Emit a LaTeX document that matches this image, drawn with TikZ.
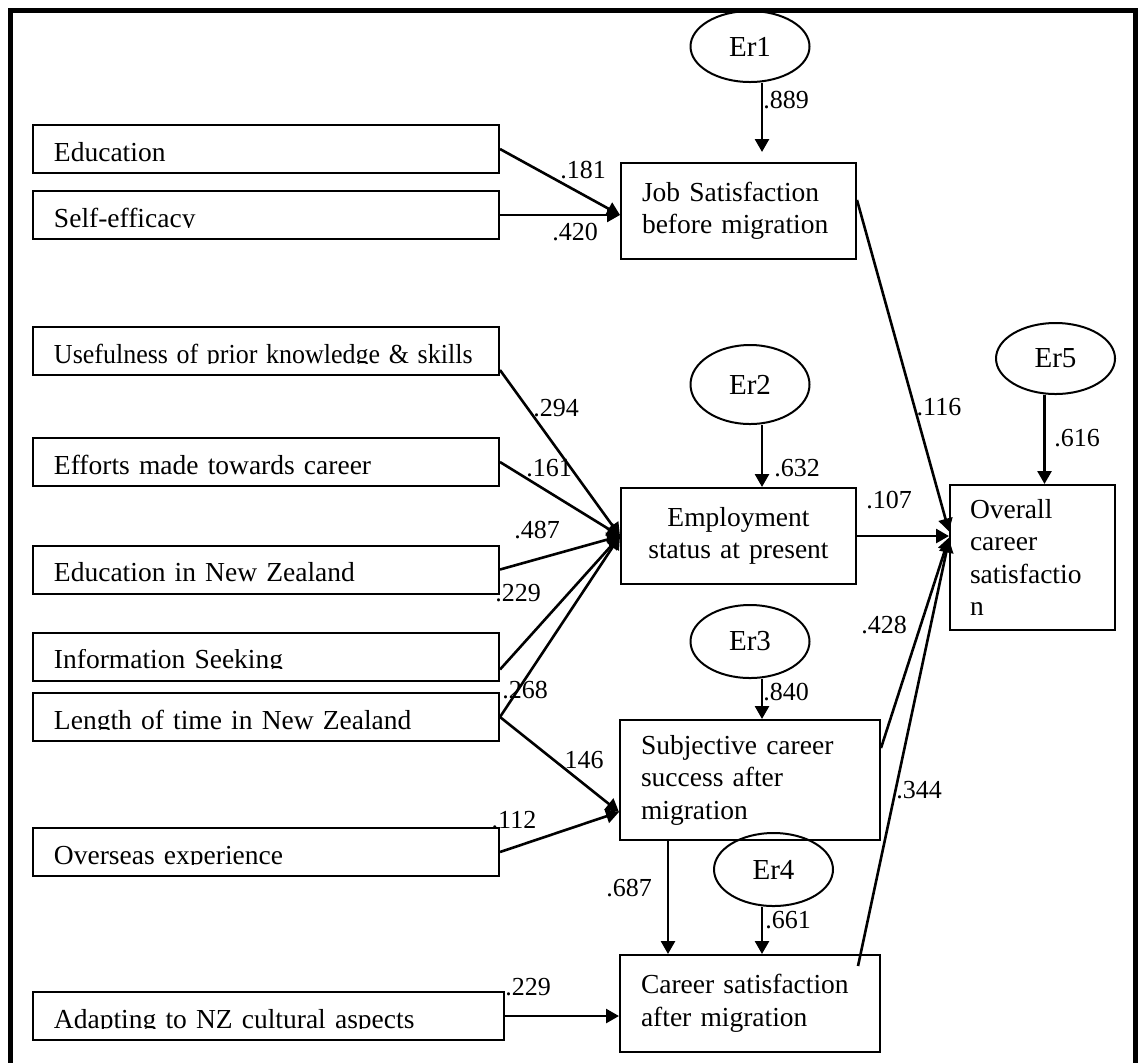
\documentclass[tikz,border=0pt]{standalone}
\usepackage{fontspec}
\setmainfont{Liberation Serif}
\usepackage{trimclip}
\usetikzlibrary{arrows.meta}
\usetikzlibrary{shapes.geometric}
\tikzstyle{VarBox}=[draw,line width=1pt,inner xsep=10.5pt,inner ysep=0pt,text height=12pt,
text depth=0pt,text width=212pt,minimum height=24pt,align=left]
\tikzstyle{MidBox}=[draw,line width=1pt,inner xsep=10.5pt,inner ysep=2pt,align=left]
\tikzstyle{ErrNode}=[ellipse,draw,line width=1pt,minimum width=59.5pt,minimum height=36pt,
inner sep=0pt,font=\fontsize{14.5}{17}\selectfont]
\tikzstyle{PathArrow}=[line width=1.3pt,-{Triangle[length=6.5pt,width=7pt]}]
\tikzstyle{Coef}=[inner sep=0pt,font=\fontsize{13}{15}\selectfont]
% text boxes whose descenders are cut off at the baseline
\newcommand{\NoDesc}[1]{\clipbox{0pt {\depth} 0pt 0pt}{#1}}

\begin{document}
\begin{tikzpicture}[x=0.5pt,y=-0.5pt,font=\fontsize{13.75}{16.25}\selectfont]
        \useasboundingbox (0,0) rectangle (1139,1062);
        \draw[line width=2.5pt] (10,1075) -- (10,10) -- (1135,10) -- (1135,1075);
        % exogenous variables
        \node[VarBox](edu)at(266,149){Education};
        \node[VarBox](self)at(266,215){\NoDesc{Self-efficacy}};
        \node[VarBox](use)at(266,351){\NoDesc{\scalebox{0.945}[1]{Usefulness of prior knowledge \& skills}}};
        \node[VarBox](eff)at(266,462){Efforts made towards career};
        \node[VarBox](ednz)at(266,569.5){Education in New Zealand};
        \node[VarBox](info)at(266,656.5){\NoDesc{Information Seeking}};
        \node[VarBox](len)at(266,717){\NoDesc{Length of time in New Zealand}};
        \node[VarBox](over)at(266,852){\NoDesc{Overseas experience}};
        \node[VarBox,text width=214.5pt](adapt)at(268.5,1016){\NoDesc{Adapting to NZ cultural aspects}};
        % endogenous variables
        \node[MidBox,text width=96.5pt,minimum height=48pt](job)at(738.5,211){Job Satisfaction\\before migration};
        \node[MidBox,text width=96.5pt,minimum height=48pt,align=center](emp)at(738.5,536){Employment\\status at present};
        \node[MidBox,text width=109pt,minimum height=60pt](subj)at(750,780){Subjective career\\success after\\migration};
        \node[MidBox,text width=109pt,minimum height=48.5pt](career)at(750,1003.5){Career satisfaction\\after migration};
        \node[MidBox,inner xsep=10pt,text width=62.5pt,minimum height=72.5pt](ov)at(1032.5,557.5){Overall\\career\\satisfactio\\n};
        % error terms
        \node[ErrNode,minimum height=35.5pt](er1)at(750,46.5){Er1};
        \node[ErrNode,minimum height=39.5pt](er2)at(750,384.5){Er2};
        \node[ErrNode,minimum height=36.5pt](er3)at(750,641.5){Er3};
        \node[ErrNode,minimum height=36.5pt](er4)at(773.5,869.5){Er4};
        \node[ErrNode,minimum height=35.5pt](er5)at(1055.5,358.5){Er5};
        % paths
        \draw[PathArrow](edu.east)--(self.east-|job.west);
        \draw[PathArrow](self.east)--(self.east-|job.west);
        \draw[PathArrow]([yshift=-9.5pt]use.east)--(emp.west);
        \draw[PathArrow](eff.east)--(emp.west);
        \draw[PathArrow](ednz.east)--(emp.west);
        \draw[PathArrow]([yshift=-6.5pt]info.east)--(emp.west);
        \draw[PathArrow](len.east)--(emp.west);
        \draw[PathArrow](len.east)--([yshift=-16pt]subj.west);
        \draw[PathArrow](over.east)--([yshift=-16pt]subj.west);
        \draw[PathArrow](adapt.east)--(adapt.east-|career.west);
        \draw[PathArrow]([yshift=5.5pt]job.east)--([yshift=13pt]ov.west);
        \draw[PathArrow](emp.east)--(emp.east-|ov.west);
        \draw[PathArrow]([yshift=16pt]subj.east)--([yshift=10pt]ov.west);
        \draw[PathArrow]([xshift=-11.5pt,yshift=-6pt]career.north east)--([yshift=9pt]ov.west);
        \draw[PathArrow]([xshift=-41pt]subj.south)--([xshift=-41pt]career.north);
        \draw[PathArrow]([xshift=6pt]er1.south)--([xshift=11.75pt,yshift=5pt]job.north);
        \draw[PathArrow]([xshift=6pt]er2.south)--([xshift=11.75pt]emp.north);
        \draw[PathArrow]([xshift=6pt]er3.south)--([xshift=6pt]subj.north);
        \draw[PathArrow]([xshift=-5.75pt]er4.south)--([xshift=6pt]career.north);
        \draw[PathArrow]([xshift=-5.5pt]er5.south)--([xshift=6pt]ov.north);
        % coefficients
        \node[Coef](c889)at(786,100){.889};
        \node[Coef](c181)at(583,170){.181};
        \node[Coef](c420)at(575,232){.420};
        \node[Coef](c294)at(556,408){.294};
        \node[Coef](c161)at(549,468){.161};
        \node[Coef](c487)at(537,530){.487};
        \node[Coef](c229a)at(518,593){.229};
        \node[Coef](c268)at(525,690){.268};
        \node[Coef](c146)at(584,760){146};
        \node[Coef](c112)at(514,820){.112};
        \node[Coef](c229b)at(528,987){.229};
        \node[Coef](c632)at(797,468){.632};
        \node[Coef](c107)at(889,500){.107};
        \node[Coef](c116)at(939,407){.116};
        \node[Coef](c616)at(1077,438){.616};
        \node[Coef](c428)at(884,625){.428};
        \node[Coef](c840)at(786,692){.840};
        \node[Coef](c344)at(919,790){.344};
        \node[Coef](c687)at(629,888){.687};
        \node[Coef](c661)at(788,920){.661};
    \end{tikzpicture}
\end{document}
